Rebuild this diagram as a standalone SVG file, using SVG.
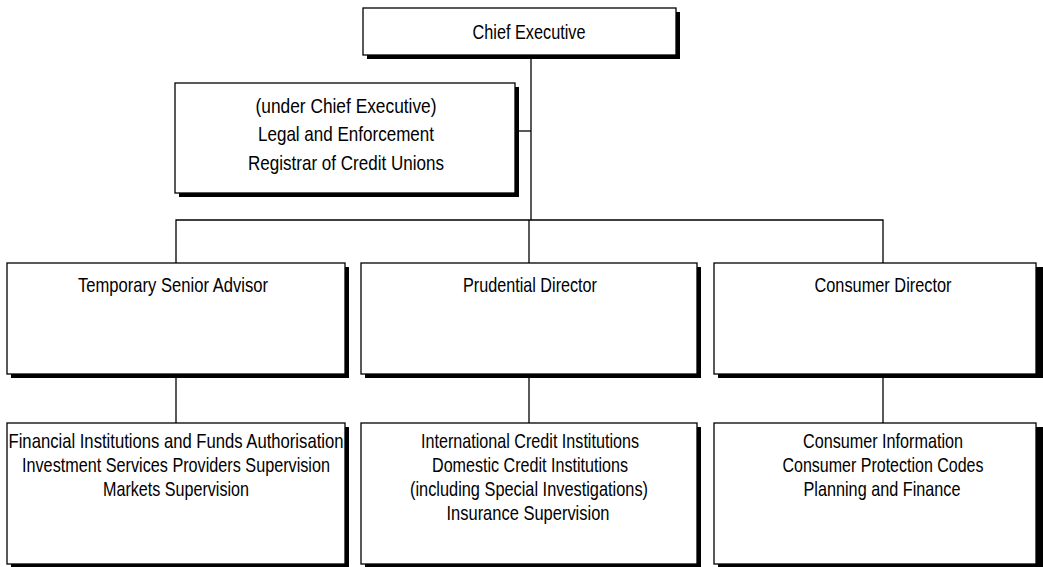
<svg xmlns="http://www.w3.org/2000/svg" width="1043" height="567" viewBox="0 0 1043 567">
<style>
.sh{fill:#000;stroke:none}
.bx{fill:#fff;stroke:#000;stroke-width:1.3}
.t{font-family:"Liberation Sans",Arial,sans-serif;font-size:21px;fill:#000;text-anchor:middle}
.ln{stroke:#000;stroke-width:1.3;fill:none}
</style>
<rect width="1043" height="567" fill="#fff"/>
<g id="connectors">
<path class="ln" d="M531 55 V220"/>
<path class="ln" d="M519 131 H531"/>
<path class="ln" d="M176 263 V220 H883 V263"/>
<path class="ln" d="M529 220 V263"/>
<path class="ln" d="M176 378 V423"/>
<path class="ln" d="M529 378 V423"/>
<path class="ln" d="M883 378 V423"/>
</g>
<g id="chief">
<rect class="sh" x="367" y="12" width="313" height="47"/>
<rect class="bx" x="363" y="8" width="313" height="47"/>
<text class="t" x="529" y="39" textLength="113" lengthAdjust="spacingAndGlyphs">Chief Executive</text>
</g>
<g id="legal">
<rect class="sh" x="179" y="87" width="340" height="110"/>
<rect class="bx" x="175" y="83" width="340" height="110"/>
<text class="t" x="346" y="113" textLength="181" lengthAdjust="spacingAndGlyphs">(under Chief Executive)</text>
<text class="t" x="346" y="141" textLength="176" lengthAdjust="spacingAndGlyphs">Legal and Enforcement</text>
<text class="t" x="346" y="170" textLength="196" lengthAdjust="spacingAndGlyphs">Registrar of Credit Unions</text>
</g>
<g id="advisor">
<rect class="sh" x="11" y="267" width="338" height="111"/>
<rect class="bx" x="7" y="263" width="338" height="111"/>
<text class="t" x="173" y="292" textLength="190" lengthAdjust="spacingAndGlyphs">Temporary Senior Advisor</text>
</g>
<g id="prudential">
<rect class="sh" x="365" y="267" width="336" height="111"/>
<rect class="bx" x="361" y="263" width="336" height="111"/>
<text class="t" x="530" y="292" textLength="134" lengthAdjust="spacingAndGlyphs">Prudential Director</text>
</g>
<g id="consumer">
<rect class="sh" x="718" y="267" width="325" height="111"/>
<rect class="bx" x="714" y="263" width="322" height="111"/>
<text class="t" x="883" y="292" textLength="137" lengthAdjust="spacingAndGlyphs">Consumer Director</text>
</g>
<g id="advisor-units">
<rect class="sh" x="11" y="427" width="338" height="142"/>
<rect class="bx" x="7" y="423" width="338" height="141"/>
<text class="t" x="176" y="448" textLength="335" lengthAdjust="spacingAndGlyphs">Financial Institutions and Funds Authorisation</text>
<text class="t" x="176" y="472" textLength="308" lengthAdjust="spacingAndGlyphs">Investment Services Providers Supervision</text>
<text class="t" x="176" y="496" textLength="146" lengthAdjust="spacingAndGlyphs">Markets Supervision</text>
</g>
<g id="prudential-units">
<rect class="sh" x="365" y="427" width="336" height="142"/>
<rect class="bx" x="361" y="423" width="336" height="141"/>
<text class="t" x="530" y="448" textLength="218" lengthAdjust="spacingAndGlyphs">International Credit Institutions</text>
<text class="t" x="530" y="472" textLength="196" lengthAdjust="spacingAndGlyphs">Domestic Credit Institutions</text>
<text class="t" x="529" y="496" textLength="238" lengthAdjust="spacingAndGlyphs">(including Special Investigations)</text>
<text class="t" x="528" y="520" textLength="163" lengthAdjust="spacingAndGlyphs">Insurance Supervision</text>
</g>
<g id="consumer-units">
<rect class="sh" x="718" y="427" width="325" height="142"/>
<rect class="bx" x="714" y="423" width="322" height="141"/>
<text class="t" x="883" y="448" textLength="160" lengthAdjust="spacingAndGlyphs">Consumer Information</text>
<text class="t" x="883" y="472" textLength="201" lengthAdjust="spacingAndGlyphs">Consumer Protection Codes</text>
<text class="t" x="882" y="496" textLength="157" lengthAdjust="spacingAndGlyphs">Planning and Finance</text>
</g>
</svg>
